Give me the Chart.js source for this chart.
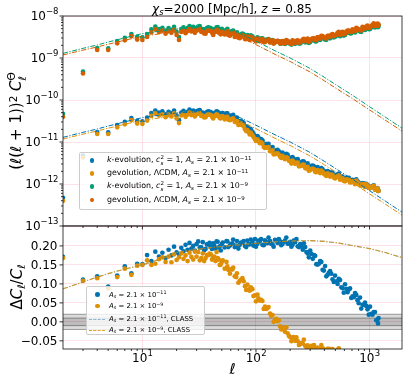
<!DOCTYPE html>
<html><head><meta charset="utf-8">
<script src="https://cdn.jsdelivr.net/npm/chart.js@4.4.1/dist/chart.umd.min.js"></script>
<style>
html,body{margin:0;padding:0;background:#fff;}
#wrap{position:relative;width:407px;height:381px;overflow:hidden;font-family:'DejaVu Sans',sans-serif;color:#000;}
canvas{position:absolute;left:0;top:0;}
.lbl{position:absolute;white-space:nowrap;transform:translate(-50%,-50%);line-height:1;}
.rot{transform:translate(-50%,-50%) rotate(-90deg);}
.leg{position:absolute;background:rgba(255,255,255,0.8);border:1px solid #cccccc;border-radius:2px;box-sizing:border-box;}
.row{position:absolute;left:0;height:12px;line-height:12px;white-space:nowrap;}
.dot{position:absolute;width:4.6px;height:4.6px;border-radius:50%;top:3.7px;}
.hl{position:absolute;height:0;top:6px;width:16px;border-top:1px dashed;}
.txt{position:absolute;top:0;white-space:nowrap;}
sub,sup{font-size:70%;line-height:0;position:relative;vertical-align:baseline;}
sup{top:-0.45em;} sub{top:0.28em;}
.ss{display:inline-flex;flex-direction:column;font-size:70%;line-height:1;vertical-align:0.6em;}
</style></head><body>
<div id="wrap">
<canvas id="cBot" width="407" height="381"></canvas>
<canvas id="cTop" width="407" height="381"></canvas>

<div class="lbl" style="left:232px;top:8.5px;font-size:12px;"><i>χ</i><sub><i>s</i></sub>=2000 [Mpc/h], <i>z</i> = 0.85</div>
<div class="lbl rot" style="left:16px;top:121px;font-size:15px;">(<i>ℓ</i>(<i>ℓ</i> + 1))<sup>2</sup> <i>C</i><span class="ss"><span>Θ</span><span><i>ℓ</i></span></span></div>
<div class="lbl rot" style="left:16.5px;top:287px;font-size:15px;">Δ<i>C</i><sub><i>ℓ</i></sub>/<i>C</i><sub><i>ℓ</i></sub></div>
<div class="lbl" style="left:232.5px;top:369px;font-size:15px;"><i>ℓ</i></div>

<div class="leg" style="left:79px;top:152px;width:188px;height:58px;font-size:7.9px;">
 <div class="row" style="top:1.3px;width:100%"><span class="dot" style="left:9.5px;background:#0173b2"></span><span class="txt" style="left:27px"><i>k</i>-evolution, <i>c</i><span class="ss"><span>2</span><span><i>s</i></span></span> = 1, <i>A</i><sub><i>s</i></sub> = 2.1 × 10<sup>−11</sup></span></div>
 <div class="row" style="top:14.3px;width:100%"><span class="dot" style="left:9.5px;background:#de8f05"></span><span class="txt" style="left:27px">gevolution, ΛCDM, <i>A</i><sub><i>s</i></sub> = 2.1 × 10<sup>−11</sup></span></div>
 <div class="row" style="top:27.3px;width:100%"><span class="dot" style="left:9.5px;background:#029e73"></span><span class="txt" style="left:27px"><i>k</i>-evolution, <i>c</i><span class="ss"><span>2</span><span><i>s</i></span></span> = 1, <i>A</i><sub><i>s</i></sub> = 2.1 × 10<sup>−9</sup></span></div>
 <div class="row" style="top:41px;width:100%"><span class="dot" style="left:9.5px;background:#d55e00"></span><span class="txt" style="left:27px">gevolution, ΛCDM, <i>A</i><sub><i>s</i></sub> = 2.1 × 10<sup>−9</sup></span></div>
</div>

<div class="leg" style="left:86px;top:286px;width:119px;height:49px;font-size:6.9px;">
 <div class="row" style="top:1.5px;width:100%"><span class="dot" style="left:8.4px;background:#0173b2"></span><span class="txt" style="left:22px"><i>A</i><sub><i>s</i></sub> = 2.1 × 10<sup>−11</sup></span></div>
 <div class="row" style="top:13px;width:100%"><span class="dot" style="left:8.4px;background:#de8f05"></span><span class="txt" style="left:22px"><i>A</i><sub><i>s</i></sub> = 2.1 × 10<sup>−9</sup></span></div>
 <div class="row" style="top:25.5px;width:100%"><span class="hl" style="left:2px;border-color:rgba(1,115,178,0.45)"></span><span class="txt" style="left:22px"><i>A</i><sub><i>s</i></sub> = 2.1 × 10<sup>−11</sup>, CLASS</span></div>
 <div class="row" style="top:37px;width:100%"><span class="hl" style="left:2px;border-color:rgba(222,143,5,0.85)"></span><span class="txt" style="left:22px"><i>A</i><sub><i>s</i></sub> = 2.1 × 10<sup>−9</sup>, CLASS</span></div>
</div>
</div>

<script>
// ---------------- DATA ----------------
const ell = [2,3,4,5,6,7,8,9,10,11,12,13,14,15,16,17,18,19,20,21,22,23,24,25,26,27,28,29,30,
  32,34,36,38,40,42,44,46,48,50,
  53,56,59,62,65,68,72,76,80,84,88,93,98,
  103,108,114,120,126,133,140,147,155,163,171,180,190,200,
  210,221,233,245,258,271,285,300,316,332,349,367,386,406,
  427,449,472,497,523,550,578,608,640,673,708,745,783,824,
  867,912,959,1009,1061,1116,1174,1200,
  31,33,35,37,39,41,43,45,47,49,
  51,55,57,60,63,67,70,74,78,82,86,90,95,100,
  105,111,117,123,129,136,143,151,159,167,175,185,195,205,
  215,227,239,251,264,278,292,308,324,340,358,376,396,416,
  438,460,484,510,536,564,593,624,656,690,726,764,803,845,
  889,935,984,1035,1088,1145,1187];

// k-evolution, A_s = 2.1e-11
const kess11 = [4.66e-13,4.73e-12,1.73e-11,1.69e-11,2.51e-11,3.00e-11,3.72e-11,3.17e-11,3.10e-11,3.80e-11,4.90e-11,5.62e-11,5.01e-11,5.37e-11,4.57e-11,5.25e-11,4.79e-11,5.62e-11,4.27e-11,3.31e-11,5.01e-11,5.50e-11,4.68e-11,5.25e-11,5.89e-11,5.13e-11,5.62e-11,4.79e-11,5.37e-11,
  5.75e-11,5.01e-11,4.57e-11,5.37e-11,5.13e-11,4.37e-11,5.01e-11,5.25e-11,4.47e-11,4.90e-11,
  4.17e-11,4.79e-11,3.98e-11,4.27e-11,3.63e-11,3.80e-11,3.16e-11,3.02e-11,2.40e-11,2.29e-11,1.82e-11,1.74e-11,1.41e-11,
  1.38e-11,1.12e-11,1.10e-11,8.71e-12,8.91e-12,7.24e-12,7.59e-12,6.17e-12,6.46e-12,5.37e-12,5.62e-12,4.68e-12,5.01e-12,4.17e-12,
  4.37e-12,3.63e-12,3.89e-12,3.24e-12,3.47e-12,2.88e-12,3.09e-12,2.57e-12,2.75e-12,2.29e-12,2.51e-12,2.09e-12,2.24e-12,1.91e-12,
  2.04e-12,1.70e-12,1.86e-12,1.55e-12,1.70e-12,1.41e-12,1.51e-12,1.29e-12,1.38e-12,1.17e-12,1.26e-12,1.07e-12,1.15e-12,9.77e-13,
  1.05e-12,8.91e-13,9.55e-13,8.13e-13,8.71e-13,7.41e-13,7.94e-13,6.92e-13,
  5.56e-11,4.90e-11,4.52e-11,5.13e-11,5.25e-11,4.68e-11,4.84e-11,5.37e-11,4.73e-11,4.27e-11,
  4.90e-11,4.79e-11,4.07e-11,4.17e-11,4.42e-11,3.55e-11,3.05e-11,3.09e-11,2.82e-11,2.19e-11,2.09e-11,2.02e-11,1.58e-11,1.27e-11,
  1.29e-11,1.17e-11,9.12e-12,8.91e-12,9.02e-12,7.24e-12,6.10e-12,6.31e-12,6.03e-12,5.01e-12,5.01e-12,5.19e-12,4.27e-12,3.67e-12,
  3.98e-12,3.80e-12,3.16e-12,3.24e-12,3.43e-12,2.82e-12,2.48e-12,2.69e-12,2.63e-12,2.24e-12,2.26e-12,2.40e-12,2.02e-12,1.78e-12,
  1.93e-12,1.88e-12,1.60e-12,1.64e-12,1.76e-12,1.48e-12,1.30e-12,1.41e-12,1.40e-12,1.19e-12,1.22e-12,1.29e-12,1.08e-12,9.55e-13,
  1.04e-12,1.01e-12,8.51e-13,8.71e-13,9.23e-13,7.76e-13,6.84e-13];
// gevolution LCDM, A_s = 2.1e-11
const gev11 = [3.98e-13,4.27e-12,1.55e-11,1.55e-11,2.24e-11,2.63e-11,3.31e-11,2.75e-11,2.69e-11,3.24e-11,4.17e-11,4.79e-11,4.27e-11,4.57e-11,3.89e-11,4.47e-11,4.07e-11,4.79e-11,3.63e-11,2.82e-11,4.27e-11,4.68e-11,3.98e-11,4.47e-11,5.01e-11,4.37e-11,4.79e-11,4.07e-11,4.57e-11,
  4.90e-11,4.27e-11,3.89e-11,4.57e-11,4.37e-11,3.63e-11,4.17e-11,4.37e-11,3.72e-11,4.07e-11,
  3.47e-11,3.98e-11,3.31e-11,3.55e-11,3.02e-11,3.16e-11,2.63e-11,2.51e-11,2.00e-11,1.91e-11,1.51e-11,1.45e-11,1.17e-11,
  1.15e-11,9.33e-12,9.12e-12,7.24e-12,7.41e-12,6.03e-12,6.31e-12,5.13e-12,5.37e-12,4.47e-12,4.68e-12,3.89e-12,4.17e-12,3.47e-12,
  3.63e-12,3.02e-12,3.24e-12,2.69e-12,2.88e-12,2.40e-12,2.57e-12,2.14e-12,2.34e-12,1.95e-12,2.14e-12,1.82e-12,1.95e-12,1.66e-12,
  1.80e-12,1.50e-12,1.64e-12,1.36e-12,1.50e-12,1.27e-12,1.36e-12,1.16e-12,1.24e-12,1.09e-12,1.17e-12,9.93e-13,1.06e-12,9.29e-13,
  9.95e-13,8.47e-13,9.29e-13,7.91e-13,8.47e-13,7.35e-13,7.87e-13,6.85e-13,
  4.73e-11,4.17e-11,3.85e-11,4.37e-11,4.47e-11,3.98e-11,4.17e-11,4.62e-11,4.07e-11,3.67e-11,
  4.08e-11,3.99e-11,3.40e-11,3.48e-11,3.68e-11,2.96e-11,2.55e-11,2.58e-11,2.35e-11,1.82e-11,1.74e-11,1.68e-11,1.32e-11,1.06e-11,
  1.07e-11,9.79e-12,7.60e-12,7.43e-12,7.52e-12,6.04e-12,5.08e-12,5.26e-12,5.02e-12,4.18e-12,4.18e-12,4.33e-12,3.56e-12,3.06e-12,
  3.32e-12,3.17e-12,2.64e-12,2.70e-12,2.86e-12,2.35e-12,2.07e-12,2.26e-12,2.23e-12,1.91e-12,1.95e-12,2.08e-12,1.76e-12,1.56e-12,
  1.70e-12,1.67e-12,1.43e-12,1.47e-12,1.58e-12,1.34e-12,1.18e-12,1.29e-12,1.28e-12,1.10e-12,1.13e-12,1.21e-12,1.02e-12,9.08e-13,
  9.91e-13,9.75e-13,8.26e-13,8.51e-13,9.08e-13,7.69e-13,6.81e-13];
// k-evolution, A_s = 2.1e-9
const kess9 = [4.66e-11,4.73e-10,1.73e-9,1.69e-9,2.51e-9,3.00e-9,3.72e-9,3.17e-9,3.10e-9,3.72e-9,4.79e-9,5.62e-9,4.90e-9,5.25e-9,4.47e-9,5.13e-9,4.68e-9,5.50e-9,4.17e-9,3.16e-9,4.90e-9,5.37e-9,4.57e-9,5.13e-9,5.75e-9,5.01e-9,5.50e-9,4.68e-9,5.25e-9,
  5.75e-9,4.90e-9,4.47e-9,5.37e-9,5.13e-9,4.12e-9,4.84e-9,5.43e-9,4.52e-9,4.95e-9,
  4.12e-9,4.95e-9,3.85e-9,4.37e-9,3.55e-9,4.07e-9,3.25e-9,3.82e-9,3.10e-9,3.52e-9,2.92e-9,3.28e-9,2.82e-9,
  3.09e-9,2.69e-9,2.95e-9,2.51e-9,2.75e-9,2.38e-9,2.67e-9,2.38e-9,2.54e-9,2.21e-9,2.48e-9,2.16e-9,2.48e-9,2.21e-9,
  2.54e-9,2.17e-9,2.49e-9,2.22e-9,2.61e-9,2.36e-9,2.70e-9,2.41e-9,2.74e-9,2.50e-9,2.94e-9,2.68e-9,3.08e-9,2.74e-9,
  3.15e-9,2.94e-9,3.45e-9,3.22e-9,3.70e-9,3.30e-9,3.87e-9,3.53e-9,4.15e-9,3.87e-9,4.45e-9,4.06e-9,4.66e-9,4.25e-9,
  5.11e-9,4.66e-9,5.47e-9,4.88e-9,5.73e-9,5.35e-9,6.14e-9,5.86e-9,
  5.56e-9,4.90e-9,4.52e-9,5.13e-9,5.25e-9,4.68e-9,4.84e-9,5.37e-9,4.73e-9,4.27e-9,
  4.62e-9,4.62e-9,4.03e-9,4.17e-9,4.52e-9,3.80e-9,3.37e-9,3.65e-9,3.65e-9,3.06e-9,3.21e-9,3.48e-9,2.95e-9,2.66e-9,
  2.95e-9,2.88e-9,2.51e-9,2.69e-9,2.83e-9,2.49e-9,2.25e-9,2.48e-9,2.48e-9,2.21e-9,2.32e-9,2.57e-9,2.26e-9,2.09e-9,
  2.38e-9,2.44e-9,2.22e-9,2.38e-9,2.67e-9,2.41e-9,2.28e-9,2.62e-9,2.74e-9,2.50e-9,2.74e-9,3.11e-9,2.87e-9,2.71e-9,
  3.15e-9,3.30e-9,3.08e-9,3.37e-9,3.92e-9,3.53e-9,3.41e-9,3.96e-9,4.15e-9,3.87e-9,4.25e-9,4.82e-9,4.45e-9,4.20e-9,
  4.99e-9,5.22e-9,4.88e-9,5.35e-9,6.21e-9,5.60e-9,5.41e-9];
// gevolution LCDM, A_s = 2.1e-9
const gev9 = [3.98e-11,4.27e-10,1.55e-9,1.55e-9,2.24e-9,2.63e-9,3.31e-9,2.75e-9,2.69e-9,3.16e-9,4.07e-9,4.79e-9,4.17e-9,4.47e-9,3.80e-9,4.37e-9,3.98e-9,4.68e-9,3.55e-9,2.69e-9,4.17e-9,4.57e-9,3.89e-9,4.37e-9,4.90e-9,4.27e-9,4.68e-9,3.98e-9,4.47e-9,
  4.90e-9,4.17e-9,3.80e-9,4.57e-9,4.37e-9,3.55e-9,4.17e-9,4.68e-9,3.89e-9,4.27e-9,
  3.63e-9,4.37e-9,3.39e-9,3.89e-9,3.16e-9,3.63e-9,2.95e-9,3.47e-9,2.82e-9,3.24e-9,2.69e-9,3.02e-9,2.63e-9,
  2.88e-9,2.51e-9,2.82e-9,2.40e-9,2.63e-9,2.34e-9,2.63e-9,2.34e-9,2.57e-9,2.24e-9,2.51e-9,2.24e-9,2.57e-9,2.29e-9,
  2.63e-9,2.29e-9,2.63e-9,2.34e-9,2.75e-9,2.51e-9,2.88e-9,2.57e-9,2.95e-9,2.69e-9,3.16e-9,2.88e-9,3.31e-9,2.95e-9,
  3.39e-9,3.16e-9,3.72e-9,3.47e-9,3.98e-9,3.55e-9,4.17e-9,3.80e-9,4.47e-9,4.17e-9,4.79e-9,4.37e-9,5.01e-9,4.57e-9,
  5.50e-9,5.01e-9,5.89e-9,5.25e-9,6.17e-9,5.75e-9,6.61e-9,6.31e-9,
  4.73e-9,4.17e-9,3.85e-9,4.37e-9,4.47e-9,3.98e-9,4.17e-9,4.62e-9,4.07e-9,3.67e-9,
  4.07e-9,4.07e-9,3.55e-9,3.72e-9,4.03e-9,3.39e-9,3.05e-9,3.31e-9,3.31e-9,2.82e-9,2.95e-9,3.20e-9,2.75e-9,2.48e-9,
  2.75e-9,2.75e-9,2.40e-9,2.57e-9,2.79e-9,2.45e-9,2.21e-9,2.51e-9,2.51e-9,2.24e-9,2.40e-9,2.66e-9,2.34e-9,2.16e-9,
  2.51e-9,2.57e-9,2.34e-9,2.51e-9,2.85e-9,2.57e-9,2.43e-9,2.82e-9,2.95e-9,2.69e-9,2.95e-9,3.35e-9,3.09e-9,2.92e-9,
  3.39e-9,3.55e-9,3.31e-9,3.63e-9,4.22e-9,3.80e-9,3.67e-9,4.27e-9,4.47e-9,4.17e-9,4.57e-9,5.19e-9,4.79e-9,4.52e-9,
  5.37e-9,5.62e-9,5.25e-9,5.75e-9,6.68e-9,6.03e-9,5.82e-9];

// relative difference Delta C_l / C_l
const ratio11 = [0.171,0.111,0.120,0.093,0.122,0.146,0.128,0.153,0.152,0.176,0.160,0.185,0.172,0.182,0.168,0.190,0.175,0.198,0.183,0.177,0.195,0.186,0.203,0.190,0.208,0.193,0.200,0.188,0.205,
  0.196,0.210,0.192,0.204,0.198,0.207,0.193,0.211,0.199,0.205,
  0.196,0.212,0.201,0.207,0.197,0.213,0.203,0.209,0.200,0.214,0.204,0.210,0.218,
  0.206,0.212,0.203,0.215,0.207,0.213,0.204,0.216,0.208,0.212,0.205,0.214,0.206,0.211,
  0.203,0.210,0.199,0.205,0.190,0.197,0.180,0.188,0.166,0.174,0.151,0.160,0.137,0.147,
  0.124,0.134,0.112,0.122,0.100,0.110,0.089,0.099,0.078,0.088,0.067,0.076,0.057,0.064,
  0.045,0.051,0.033,0.040,0.019,0.026,0.006,0.010,
  0.212,0.196,0.188,0.204,0.208,0.192,0.200,0.212,0.196,0.188,
  0.209,0.213,0.197,0.205,0.217,0.201,0.193,0.209,0.213,0.197,0.205,0.217,0.201,0.198,
  0.214,0.218,0.202,0.210,0.222,0.206,0.198,0.214,0.218,0.202,0.210,0.222,0.206,0.198,
  0.214,0.218,0.197,0.200,0.207,0.184,0.170,0.179,0.176,0.152,0.153,0.158,0.135,0.120,
  0.129,0.127,0.105,0.107,0.113,0.091,0.077,0.087,0.085,0.063,0.065,0.071,0.049,0.035,
  0.045,0.042,0.019,0.021,0.026,0.004,-0.004];
const ratio9 = [0.168,0.108,0.115,0.088,0.118,0.140,0.124,0.148,0.150,0.162,0.150,0.153,0.165,0.170,0.158,0.172,0.157,0.178,0.163,0.170,0.180,0.166,0.175,0.160,0.182,0.171,0.164,0.185,0.172,
  0.162,0.180,0.168,0.176,0.178,0.170,0.160,0.168,0.150,0.158,
  0.140,0.146,0.127,0.138,0.120,0.128,0.108,0.115,0.094,0.098,0.082,0.086,0.070,
  0.072,0.056,0.055,0.040,0.036,0.022,0.018,0.005,0.002,-0.012,-0.016,-0.026,-0.030,-0.040,
  -0.042,-0.050,-0.051,-0.058,-0.057,-0.063,-0.062,-0.067,-0.065,-0.070,-0.068,-0.072,-0.069,-0.074,
  -0.071,-0.076,-0.072,-0.078,-0.073,-0.079,-0.079,-0.080,-0.080,-0.082,-0.079,-0.083,-0.080,-0.084,
  -0.081,-0.085,-0.082,-0.086,-0.083,-0.087,-0.084,-0.086,
  0.184,0.168,0.160,0.176,0.180,0.164,0.172,0.184,0.164,0.151,
  0.162,0.158,0.137,0.138,0.143,0.118,0.103,0.111,0.107,0.084,0.085,0.091,0.068,0.054,
  0.062,0.058,0.034,0.034,0.039,0.016,0.000,0.008,0.004,-0.020,-0.019,-0.014,-0.037,-0.051,
  -0.040,-0.041,-0.061,-0.056,-0.047,-0.066,-0.077,-0.063,-0.061,-0.079,-0.072,-0.061,-0.079,-0.087,
  -0.071,-0.072,-0.088,-0.080,-0.070,-0.085,-0.092,-0.080,-0.079,-0.090,-0.082,-0.080,-0.086,-0.094,
  -0.080,-0.079,-0.093,-0.085,-0.080,-0.089,-0.095];

// CLASS (linear) predictions
const ellClass = [2,3,4,5,7,10,15,20,30,45,65,100,150,200,300,400,550,700,1000,1400,2000];
const classK9  = [1.29e-9,1.70e-9,2.04e-9,2.40e-9,3.02e-9,3.80e-9,4.47e-9,4.90e-9,5.25e-9,5.25e-9,4.37e-9,2.51e-9,1.45e-9,1.00e-9,5.62e-10,3.47e-10,2.00e-10,1.32e-10,6.92e-11,3.80e-11,2.00e-11];
const classG9  = [1.18e-9,1.54e-9,1.83e-9,2.13e-9,2.65e-9,3.30e-9,3.83e-9,4.15e-9,4.41e-9,4.39e-9,3.63e-9,2.08e-9,1.19e-9,8.24e-10,4.63e-10,2.86e-10,1.65e-10,1.10e-10,5.79e-11,3.21e-11,1.71e-11];
const classK11 = [1.29e-11,1.70e-11,2.04e-11,2.40e-11,3.02e-11,3.80e-11,4.47e-11,4.90e-11,5.25e-11,5.25e-11,4.37e-11,2.51e-11,1.45e-11,1.00e-11,5.62e-12,3.47e-12,2.00e-12,1.32e-12,6.92e-13,3.80e-13,2.00e-13];
const classG11 = [1.18e-11,1.54e-11,1.83e-11,2.13e-11,2.65e-11,3.30e-11,3.83e-11,4.15e-11,4.41e-11,4.39e-11,3.63e-11,2.08e-11,1.19e-11,8.24e-12,4.63e-12,2.86e-12,1.65e-12,1.10e-12,5.79e-13,3.21e-13,1.71e-13];
const classRatio11 = [0.087,0.105,0.118,0.127,0.139,0.150,0.167,0.183,0.191,0.197,0.202,0.207,0.211,0.213,0.214,0.212,0.207,0.201,0.193,0.182,0.168];
const classRatio9  = [0.087,0.105,0.118,0.127,0.139,0.150,0.167,0.183,0.191,0.197,0.202,0.207,0.211,0.213,0.214,0.212,0.207,0.201,0.193,0.182,0.168];

// axes / ticks
const xLimits = [2, 1930];
const yTopLimits = [1e-13, 1e-8];
const yBotLimits = [-0.0715, 0.2525];
const xMajorTicks = [10, 100, 1000];
const yTopMajorTicks = [1e-13, 1e-12, 1e-11, 1e-10, 1e-9, 1e-8];
const yBotMajorTicks = [-0.05, 0.00, 0.05, 0.10, 0.15, 0.20];
const bandLevels = [0.02, 0.01];

// ---------------- STYLE ----------------
const C = {blue:'#0173b2', orange:'#de8f05', green:'#029e73', verm:'#d55e00'};
const GRID = 'rgba(255,170,190,0.45)';
const FONT = "'DejaVu Sans', sans-serif";
Chart.defaults.font.family = FONT;

function pairs(xs, ys){ return xs.map((x,i)=>({x:x, y:ys[i]})); }
function minorLog(lo, hi){
  const out=[];
  for(let e=Math.floor(Math.log10(lo)); e<=Math.ceil(Math.log10(hi)); e++)
    for(let m=2;m<=9;m++){ const v=m*Math.pow(10,e); if(v>lo*1.0001 && v<hi*0.9999) out.push(v); }
  return out;
}
function scatterDs(data, color){
  return {type:'scatter', data:data, backgroundColor:color, borderWidth:0, pointRadius:2.35, pointHoverRadius:2.35, clip:0};
}
function lineDs(data, color, w){
  return {type:'scatter', data:data, showLine:true, borderColor:color, borderWidth:w||1, borderDash:[5,1.6,1.2,1.6],
          pointRadius:0, pointHoverRadius:0, fill:false, tension:0, clip:0};
}
function withOrder(list){ list.forEach((d,i)=>{ d.order = list.length - i; }); return list; }

const mplAxes = {
  id:'mplAxes',
  beforeDatasetsDraw(chart, args, o){
    if(!o.bands) return;
    const c=chart.ctx, a=chart.chartArea, sy=chart.scales.y;
    c.save();
    o.bands.forEach(lv=>{
      const y1=sy.getPixelForValue(lv), y2=sy.getPixelForValue(-lv);
      c.fillStyle='rgba(0,0,0,0.14)';
      c.fillRect(a.left, y1, a.right-a.left, y2-y1);
      c.strokeStyle='rgba(0,0,0,0.45)'; c.lineWidth=0.8;
      [y1,y2].forEach(y=>{ c.beginPath(); c.moveTo(a.left,y); c.lineTo(a.right,y); c.stroke(); });
    });
    c.restore();
  },
  afterDraw(chart, args, o){
    const c=chart.ctx, a=chart.chartArea, sx=chart.scales.x, sy=chart.scales.y;
    c.save();
    c.strokeStyle='#000'; c.lineWidth=0.8;
    const seg=(x1,y1,x2,y2)=>{ c.beginPath(); c.moveTo(x1,y1); c.lineTo(x2,y2); c.stroke(); };
    o.xMajor.forEach(v=>{ const p=sx.getPixelForValue(v); seg(p,a.bottom,p,a.bottom+3.5); });
    o.xMinor.forEach(v=>{ const p=sx.getPixelForValue(v); seg(p,a.bottom,p,a.bottom+2); });
    o.yMajor.forEach(v=>{ const p=sy.getPixelForValue(v); seg(a.left-3.5,p,a.left,p); });
    (o.yMinor||[]).forEach(v=>{ const p=sy.getPixelForValue(v); seg(a.left-2,p,a.left,p); });
    c.strokeStyle='#111';
    c.strokeRect(a.left, a.top, a.right-a.left, a.bottom-a.top);
    c.fillStyle='#000'; c.textAlign='left'; c.textBaseline='alphabetic';
    const big='12px '+FONT, small='8.5px '+FONT;
    if(o.yLog){
      o.yMajor.forEach(v=>{
        const p=sy.getPixelForValue(v), e=Math.round(Math.log10(v));
        const sup=(e<0?'\u2212':'')+Math.abs(e);
        c.font=small; const ws=c.measureText(sup).width;
        c.font=big; const wb=c.measureText('10').width;
        const xr=a.left-4.5;
        c.fillText('10', xr-ws-wb, p+4);
        c.font=small; c.fillText(sup, xr-ws, p-1.8);
      });
    } else {
      c.font=big; c.textAlign='right';
      o.yMajor.forEach(v=>{
        const p=sy.getPixelForValue(v);
        const t=v.toFixed(2).replace('-', '\u2212');
        c.fillText(t==='\u22120.00'?'0.00':t, a.left-5.5, p+4.3);
      });
      c.textAlign='left';
    }
    if(o.xLabels){
      o.xMajor.forEach(v=>{
        const p=sx.getPixelForValue(v), e=Math.round(Math.log10(v));
        const sup=String(e);
        c.font=small; const ws=c.measureText(sup).width;
        c.font=big; const wb=c.measureText('10').width;
        const x0=p-(wb+ws)/2;
        c.fillText('10', x0, a.bottom+12.5);
        c.font=small; c.fillText(sup, x0+wb+0.3, a.bottom+6.8);
      });
    }
    c.restore();
  }
};

function baseScales(yType, yLim, yTicks){
  return {
    x:{type:'logarithmic', min:xLimits[0], max:xLimits[1], position:'bottom',
       ticks:{display:false}, border:{display:false},
       grid:{color:GRID, lineWidth:0.8, drawTicks:false},
       afterBuildTicks:s=>{ s.ticks = xMajorTicks.map(v=>({value:v})); },
       afterFit:s=>{ s.height=0; }},
    y:{type:yType, min:yLim[0], max:yLim[1], position:'left',
       ticks:{display:false}, border:{display:false},
       grid:{color:GRID, lineWidth:0.8, drawTicks:false},
       afterBuildTicks:s=>{ s.ticks = yTicks.map(v=>({value:v})); },
       afterFit:s=>{ s.width=63; }}
  };
}
const commonOpts = {
  responsive:false, animation:false, devicePixelRatio:1,
  events:[],
  plugins:{legend:{display:false}, tooltip:{enabled:false}, title:{display:false}}
};

// top panel
new Chart(document.getElementById('cTop'), {
  type:'scatter',
  data:{datasets: withOrder([
    scatterDs(pairs(ell,kess11), C.blue),
    scatterDs(pairs(ell,gev11), C.orange),
    scatterDs(pairs(ell,kess9), C.green),
    scatterDs(pairs(ell,gev9), C.verm),
    lineDs(pairs(ellClass,classK11), C.blue),
    lineDs(pairs(ellClass,classG11), C.orange),
    lineDs(pairs(ellClass,classK9), C.green),
    lineDs(pairs(ellClass,classG9), C.verm)
  ])},
  options:Object.assign({}, commonOpts, {
    layout:{padding:{left:0, right:5, top:16, bottom:155}},
    scales: baseScales('logarithmic', yTopLimits, yTopMajorTicks),
    plugins:Object.assign({}, commonOpts.plugins, {
      mplAxes:{xMajor:xMajorTicks, xMinor:minorLog(xLimits[0],xLimits[1]),
               yMajor:yTopMajorTicks, yMinor:minorLog(yTopLimits[0],yTopLimits[1]), yLog:true, xLabels:false}
    })
  }),
  plugins:[mplAxes]
});

// bottom panel
new Chart(document.getElementById('cBot'), {
  type:'scatter',
  data:{datasets: withOrder([
    scatterDs(pairs(ell,ratio11), C.blue),
    scatterDs(pairs(ell,ratio9), C.orange),
    lineDs(pairs(ellClass,classRatio11), 'rgba(1,115,178,0.45)', 1.1),
    lineDs(pairs(ellClass,classRatio9), 'rgba(222,143,5,0.85)', 1.1)
  ])},
  options:Object.assign({}, commonOpts, {
    layout:{padding:{left:0, right:5, top:226, bottom:32}},
    scales: baseScales('linear', yBotLimits, yBotMajorTicks),
    plugins:Object.assign({}, commonOpts.plugins, {
      mplAxes:{xMajor:xMajorTicks, xMinor:minorLog(xLimits[0],xLimits[1]),
               yMajor:yBotMajorTicks, yMinor:[], yLog:false, xLabels:true, bands:bandLevels}
    })
  }),
  plugins:[mplAxes]
});
</script>
</body></html>
